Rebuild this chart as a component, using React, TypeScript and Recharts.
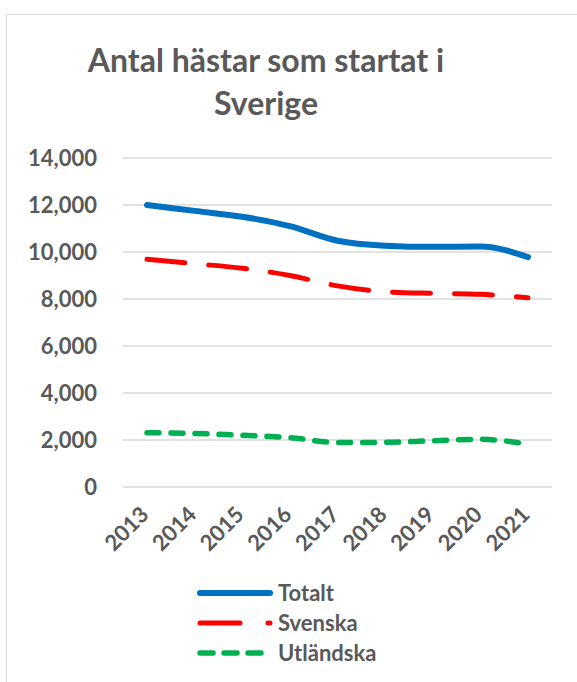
import { CartesianGrid, Legend, Line, LineChart, XAxis, YAxis } from "recharts";

const years = ["2013", "2014", "2015", "2016", "2017", "2018", "2019", "2020", "2021"];
const totalt = [12000, 11750, 11500, 11100, 10480, 10270, 10220, 10230, 9780];
const svenska = [9690, 9500, 9310, 9000, 8560, 8310, 8240, 8200, 8050];
const utlandska = [2310, 2280, 2200, 2100, 1890, 1900, 1970, 2030, 1820];
const yTicks = [0, 2000, 4000, 6000, 8000, 10000, 12000, 14000];

const data = years.map((year, i) => ({
  year,
  Totalt: totalt[i],
  Svenska: svenska[i],
  Utländska: utlandska[i],
}));

const FONT = "Lato, 'Open Sans', sans-serif";
const TEXT = "#595959";

const series = [
  { key: "Totalt", color: "#0070C0", width: 6, dash: undefined as string | undefined, legendDash: undefined as string | undefined },
  { key: "Svenska", color: "#FF0000", width: 5, dash: "38 24", legendDash: "40 28" },
  { key: "Utländska", color: "#00B050", width: 5.5, dash: "12 12", legendDash: "13 11" },
];

function YearTick({ x, y, payload }: { x?: number; y?: number; payload?: { value: string } }) {
  const ax = (x ?? 0) - 4;
  const ay = (y ?? 0) + 14;
  return (
    <text
      x={ax}
      y={ay}
      dy={10}
      textAnchor="end"
      transform={`rotate(-45, ${ax}, ${ay})`}
      fill={TEXT}
      fontFamily={FONT}
      fontWeight={700}
      fontSize={22}
    >
      {payload?.value}
    </text>
  );
}

function ChartLegend() {
  return (
    <svg width={240} height={100}>
      {series.map((s, i) => (
        <g key={s.key}>
          <line
            x1={10}
            x2={80}
            y1={13 + i * 30}
            y2={13 + i * 30}
            stroke={s.color}
            strokeWidth={s.width}
            strokeLinecap="round"
            strokeDasharray={s.legendDash}
          />
          <text
            x={88}
            y={21 + i * 30}
            fill={TEXT}
            fontFamily={FONT}
            fontWeight={700}
            fontSize={22}
          >
            {s.key}
          </text>
        </g>
      ))}
    </svg>
  );
}

export default function App() {
  return (
    <div
      style={{
        position: "fixed",
        left: 0,
        top: 0,
        width: 577,
        height: 682,
        overflow: "hidden",
        background: "#fff",
      }}
    >
      <div
        style={{
          position: "absolute",
          left: 6,
          top: 14,
          width: 600,
          height: 700,
          border: "1px solid #d9d9d9",
        }}
      />
      <div
        style={{
          position: "absolute",
          left: 6,
          top: 38,
          width: 520,
          textAlign: "center",
          fontFamily: FONT,
          fontWeight: 700,
          fontSize: 32,
          lineHeight: "43px",
          color: TEXT,
        }}
      >
        Antal hästar som startat i
        <br />
        Sverige
      </div>
      <div style={{ position: "absolute", left: 0, top: 0 }}>
        <LineChart
          width={577}
          height={682}
          data={data}
          margin={{ top: 158, right: 25, left: 0, bottom: 135 }}
        >
          <CartesianGrid stroke="#d9d9d9" strokeWidth={1.5} vertical={false} />
          <XAxis
            dataKey="year"
            axisLine={false}
            tickLine={false}
            padding={{ left: 24, right: 24 }}
            interval={0}
            height={60}
            tick={<YearTick />}
          />
          <YAxis
            domain={[0, 14000]}
            ticks={yTicks}
            interval={0}
            axisLine={false}
            tickLine={false}
            tickSize={0}
            tickMargin={26}
            width={123}
            tickFormatter={(v: number) => v.toLocaleString("en-US")}
            tick={{ fill: TEXT, fontFamily: FONT, fontWeight: 700, fontSize: 22 }}
          />
          <Legend
            layout="vertical"
            align="center"
            verticalAlign="middle"
            wrapperStyle={{ left: 190, top: 580, width: 240, height: 100 }}
            content={<ChartLegend />}
          />
          {series.map((s) => (
            <Line
              key={s.key}
              type="monotone"
              dataKey={s.key}
              stroke={s.color}
              strokeWidth={s.width}
              strokeDasharray={s.dash}
              strokeLinecap="round"
              dot={false}
              activeDot={false}
              isAnimationActive={false}
            />
          ))}
        </LineChart>
      </div>
    </div>
  );
}
